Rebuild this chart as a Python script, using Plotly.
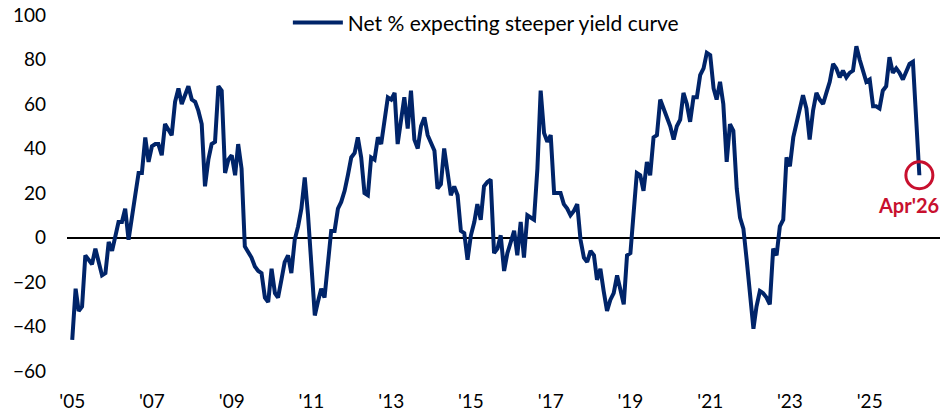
import pandas as pd
import plotly.graph_objects as go

# Net % of survey respondents expecting a steeper yield curve, monthly Jan 2005 - Apr 2026
inicio = '2005-01-01'
net_steeper = [
    -46, -23, -33, -31, -8, -10, -12, -5, -11, -17, -16, -2,    # 2005
    -6, 2, 7, 7, 13, -1, 10, 19, 29, 29, 45, 34,                # 2006
    41, 42, 42, 37, 51, 48, 46, 61, 67, 60, 64, 68,             # 2007
    62, 61, 57, 51, 23, 35, 42, 43, 68, 66, 29, 35,             # 2008
    37, 28, 42, 31, -4, -7, -9, -13, -15, -16, -27, -29,        # 2009
    -14, -25, -27, -19, -11, -8, -16, -1, 5, 13, 27, 10,        # 2010
    -10, -35, -29, -23, -27, -12, 3, 3, 13, 16, 21, 28,         # 2011
    36, 38, 45, 36, 20, 19, 36, 35, 45, 42, 52, 63,             # 2012
    62, 65, 42, 52, 63, 49, 66, 44, 40, 50, 54, 46,             # 2013
    42, 39, 22, 24, 40, 30, 19, 23, 19, 3, 2, -10,              # 2014
    1, 7, 15, 8, 23, 25, 26, -7, -5, 1, -15, -7,                # 2015
    -2, 3, -8, 7, -9, 10, 9, 8, 31, 66, 47, 43,                 # 2016
    46, 20, 20, 20, 15, 13, 10, 12, 15, -1, -9, -11,            # 2017
    -6, -8, -19, -14, -24, -33, -28, -25, -17, -24, -30, -8,    # 2018
    -7, 12, 29, 28, 21, 34, 28, 45, 46, 62, 58, 54,             # 2019
    50, 44, 50, 53, 65, 60, 52, 63, 63, 73, 76, 83,             # 2020
    82, 67, 62, 70, 60, 34, 51, 48, 22, 9, 4, -10,              # 2021
    -26, -41, -31, -24, -25, -27, -30, -5, -8, 5, 8, 36,        # 2022
    32, 45, 51, 58, 64, 58, 44, 57, 65, 62, 60, 65,             # 2023
    70, 78, 76, 72, 75, 72, 74, 75, 86, 80, 75, 70,             # 2024
    71, 59, 59, 58, 66, 68, 81, 74, 76, 74, 71, 75,             # 2025
    78, 79, 54, 28,                                             # 2026
]
anos_ticks = list(range(2005, 2026, 2))
rotulos_ticks = ["'" + str(a)[2:] for a in anos_ticks]
y_ticks = [-60, -40, -20, 0, 20, 40, 60, 80, 100]
rotulo_final = "Apr'26"

df = pd.DataFrame({'Data': pd.date_range(inicio, periods=len(net_steeper), freq='MS'),
                   'Net': net_steeper})

azul = '#002469'
vermelho = '#C8102E'
fonte = 'Lato'

fig = go.Figure()
fig.add_trace(go.Scatter(x=df['Data'], y=df['Net'], mode='lines',
                         name='Net % expecting steeper yield curve',
                         line=dict(color=azul, width=4)))
ultimo = df.iloc[-1]
fig.add_trace(go.Scatter(x=[ultimo['Data']], y=[ultimo['Net']], mode='markers',
                         showlegend=False,
                         marker=dict(symbol='circle-open', size=27, color=vermelho,
                                     line=dict(width=3, color=vermelho))))
fig.add_annotation(x=ultimo['Data'], y=ultimo['Net'], text='<b>' + rotulo_final + '</b>',
                   showarrow=False, xshift=-11, yshift=-30,
                   font=dict(family=fonte, size=20, color=vermelho))

fig.update_layout(
    width=942, height=414,
    margin=dict(l=67, r=2, t=15, b=26),
    plot_bgcolor='white', paper_bgcolor='white',
    font=dict(family=fonte, size=19, color='black'),
    legend=dict(orientation='h', x=0.253, xanchor='left', y=0.979, yanchor='middle',
                font=dict(size=21), itemwidth=50, bgcolor='rgba(0,0,0,0)'),
    xaxis=dict(range=['2004-11-14', '2026-10-07'], showgrid=False, showline=False,
               tickmode='array', tickvals=[pd.Timestamp(a, 1, 1) for a in anos_ticks],
               ticktext=rotulos_ticks, ticks=''),
    yaxis=dict(range=[-67.6, 100], showgrid=False, showline=False,
               tickmode='array', tickvals=y_ticks, ticks='', ticklabelstandoff=20,
               zeroline=True, zerolinecolor='black', zerolinewidth=2),
)

# a página tem margem de 8px no body; zera para a figura ocupar a janela toda
fig.write_html('out.html', config={'displayModeBar': False},
               post_script="document.body.style.margin='0';")
